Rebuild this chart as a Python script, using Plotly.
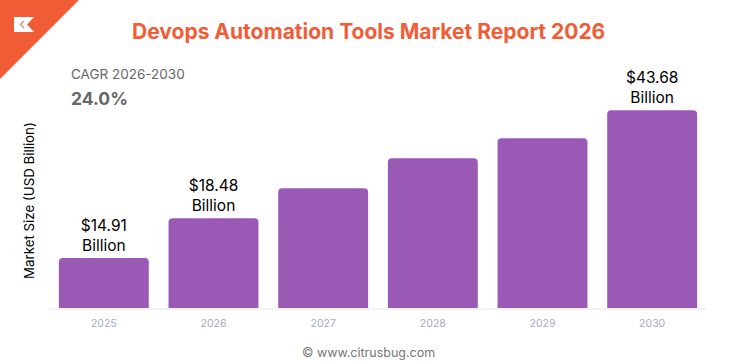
import plotly.graph_objects as go

years = ["2025", "2026", "2027", "2028", "2029", "2030"]
# Bar heights as drawn in the picture (the bars are not proportional to their printed labels)
bar_values = [11.03, 19.85, 26.47, 33.09, 37.5, 43.68]
bar_labels = ["$14.91<br>Billion", "$18.48<br>Billion", "", "", "", "$43.68<br>Billion"]

title_text = "Devops Automation Tools Market Report 2026"
cagr_label = "CAGR 2026-2030"
cagr_value = "24.0%"
y_title = "Market Size (USD Billion)"
footer = "© www.citrusbug.com"

W, H = 736, 364
L, R, T, B = 49, 29, 50, 56
ORANGE = "#f15c37"
PURPLE = "#9b59b6"

def px(x):
    return (x - L) / (W - L - R)

def py(y):
    return (H - B - y) / (H - T - B)

fig = go.Figure(go.Bar(
    x=years, y=bar_values, width=0.82,
    marker=dict(color=PURPLE, cornerradius=4, line=dict(width=0)),
    text=bar_labels, textposition="outside", cliponaxis=False,
    textfont=dict(family="Inter", size=15.5, color="#000000"),
    hoverinfo="skip",
))

triangle = dict(type="path", xref="paper", yref="paper",
                path=f"M {px(0)} {py(0)} L {px(79)} {py(0)} L {px(0)} {py(79)} Z",
                fillcolor=ORANGE, line=dict(width=0), layer="above")
logo = dict(type="path", xref="paper", yref="paper",
            path=(f"M {px(14)} {py(17)} L {px(34)} {py(17)} L {px(27)} {py(24.5)} "
                  f"L {px(34)} {py(32)} L {px(14)} {py(32)} Z"),
            fillcolor="#ffffff", line=dict(width=0), layer="above")
chev = dict(type="path", xref="paper", yref="paper",
            path=f"M {px(24)} {py(21)} L {px(20.5)} {py(24.5)} L {px(24)} {py(28)}",
            line=dict(color="#d9806a", width=1.2), layer="above")

def note(x, y, text, size, color, xanchor="left", family="Inter", bold=False, angle=0):
    return dict(xref="paper", yref="paper", x=px(x), y=py(y), text=f"<b>{text}</b>" if bold else text,
                showarrow=False, xanchor=xanchor, yanchor="middle", textangle=angle,
                borderpad=0, font=dict(family=family, size=size, color=color))

fig.update_layout(
    width=W, height=H, autosize=False, showlegend=False,
    paper_bgcolor="#ffffff", plot_bgcolor="#ffffff",
    margin=dict(l=L, r=R, t=T, b=B),
    xaxis=dict(type="category", showgrid=False, zeroline=False, showline=True,
               linecolor="#f2f2f4", linewidth=2, ticks="outside", ticklen=4,
               tickcolor="rgba(255,255,255,0)",
               tickfont=dict(family="Inter", size=10.5, color="#a3adc2")),
    yaxis=dict(range=[0, 57], visible=False),
    shapes=[triangle, logo, chev],
    annotations=[
        note(368, 31, title_text, 21, ORANGE, "center", bold=True),
        note(69.5, 74, cagr_label, 13.5, "#666666"),
        note(69.5, 98, cagr_value, 17.5, "#666666", bold=True),
        note(29, 201, y_title, 13.3, "#000000", "center", angle=-90),
        note(368, 352, footer, 12.5, "#777777", "center"),
    ],
)

fig.write_html("out.html", config={"displayModeBar": False},
               post_script="document.body.style.margin='0';document.documentElement.style.overflow='hidden';")
